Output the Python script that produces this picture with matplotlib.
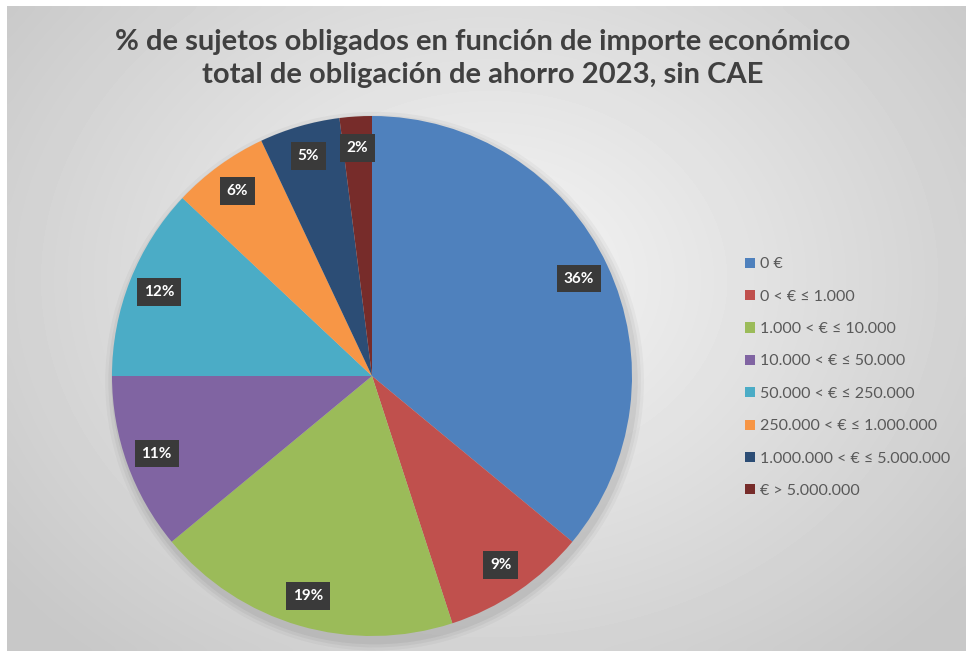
import numpy as np
import matplotlib.pyplot as plt

# datos del gráfico
categorias = ['0 €', '0 < € ≤ 1.000', '1.000 < € ≤ 10.000', '10.000 < € ≤ 50.000',
              '50.000 < € ≤ 250.000', '250.000 < € ≤ 1.000.000',
              '1.000.000 < € ≤ 5.000.000', '€ > 5.000.000']
porcentajes = [36, 9, 19, 11, 12, 6, 5, 2]
colores = ['#4F81BD', '#C0504D', '#9BBB59', '#8064A2', '#4BACC6', '#F79646', '#2C4D75', '#772C2A']
titulo = ['% de sujetos obligados en función de importe económico',
          'total de obligación de ahorro 2023, sin CAE']

plt.rcParams['font.family'] = ['Lato', 'DejaVu Sans']

W, H = 966, 651
fig = plt.figure(figsize=(W / 100, H / 100), dpi=100)

# fondo con degradado radial
bg = fig.add_axes([7 / W, 0, 1 - 7 / W, 1 - 6 / H])
yy, xx = np.mgrid[0:100, 0:150]
d = np.sqrt(((xx - 75) / 95) ** 2 + ((yy - 42) / 75) ** 2)
d = np.clip(d, 0, 1)
img = 0.965 - 0.18 * d
bg.imshow(img, cmap='gray', vmin=0, vmax=1, aspect='auto', interpolation='bicubic')
bg.axis('off')

# tarta
R = 260
ax = fig.add_axes([(372 - R) / W, (H - 376 - R) / H, 2 * R / W, 2 * R / H])
ax.set_facecolor('none')
# sombra suave
for k, a in enumerate([0.05, 0.04, 0.03]):
    ax.add_patch(plt.Circle((0.01, -0.02), 1.0 + 0.012 * (k + 1), color='k', alpha=a, lw=0,
                            clip_on=False))
wedges, textos = ax.pie(porcentajes, colors=colores, startangle=90, counterclock=False,
                        radius=1.0, wedgeprops=dict(linewidth=0))
ax.set_xlim(-1, 1)
ax.set_ylim(-1, 1)
ax.set_aspect('equal')
ax.axis('off')

dist = 0.88
for w, p in zip(wedges, porcentajes):
    ang = np.deg2rad((w.theta1 + w.theta2) / 2)
    x, y = dist * np.cos(ang), dist * np.sin(ang)
    ax.text(x, y, f'{p}%', ha='center', va='center', color='white',
            fontsize=11, fontweight='bold',
            bbox=dict(boxstyle='square,pad=0.45', fc='#3a3a3a', ec='none'))

# título (dos líneas, posición de la línea base)
for linea, ypx in zip(titulo, [50, 83]):
    fig.text(0.5, 1 - ypx / H, linea, ha='center', va='baseline', fontsize=21,
             fontweight='bold', color='#404040')

# leyenda
leg = fig.legend(wedges, categorias, loc='upper left', bbox_to_anchor=(731 / W, 1 - 243 / H),
                 frameon=False, fontsize=11.5, labelcolor='#595959',
                 handlelength=0.6, handleheight=0.6, handletextpad=0.3, labelspacing=1.15)

fig.savefig('out.png', dpi=100)
